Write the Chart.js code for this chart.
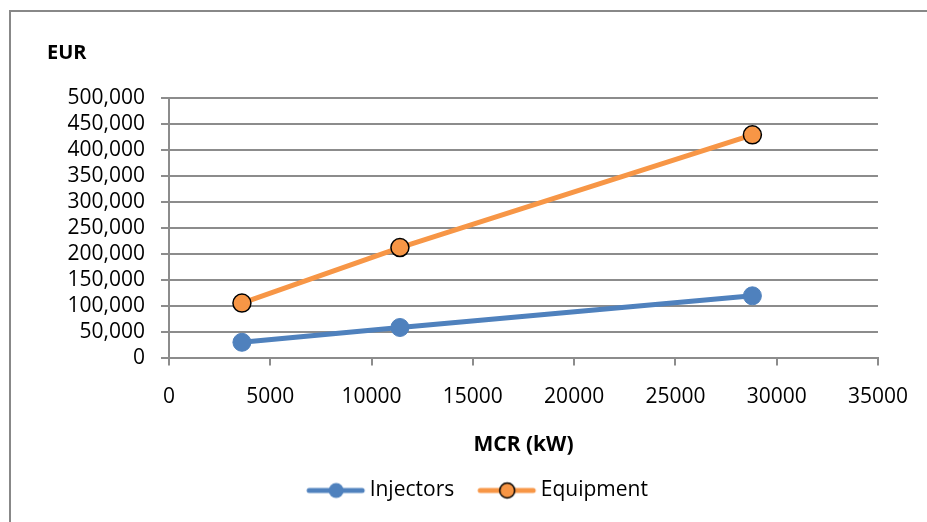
<!DOCTYPE html>
<html>
<head>
<meta charset="utf-8">
<script src="https://cdn.jsdelivr.net/npm/chart.js@4.4.1/dist/chart.umd.min.js"></script>
<style>
  html, body { margin: 0; padding: 0; background: #fff; overflow: hidden; }
  #wrap { width: 927px; height: 522px; position: relative; }
</style>
</head>
<body>
<div id="wrap"><canvas id="c" width="927" height="522"></canvas></div>
<script>
// ---- data ----
const mcrKw = [3600, 11400, 28800];
const injectorsEur = [29500, 58000, 119000];
const equipmentEur = [105000, 212000, 429000];
const seriesNames = ['Injectors', 'Equipment'];
const yTitle = 'EUR';
const xTitle = 'MCR (kW)';

const BLUE = '#4F81BD';
const ORANGE = '#F79646';
const GRID = '#8c8c8c';
const FONT = "'Open Sans', sans-serif";

function legendIcon(color, border) {
  const c = document.createElement('canvas');
  c.width = 70; c.height = 20;
  const g = c.getContext('2d');
  g.strokeStyle = color; g.lineWidth = 5; g.lineCap = 'round';
  g.beginPath(); g.moveTo(13, 10); g.lineTo(66, 10); g.stroke();
  g.beginPath(); g.arc(40, 10, 7.5, 0, Math.PI * 2);
  g.fillStyle = color; g.fill();
  if (border) { g.lineWidth = 1.5; g.strokeStyle = border; g.stroke(); }
  return c;
}

const frame = {
  id: 'frame',
  beforeDraw(chart) {
    const ctx = chart.ctx;
    ctx.save();
    ctx.fillStyle = '#fff';
    ctx.fillRect(0, 0, chart.width, chart.height);
    ctx.strokeStyle = '#888888';
    ctx.lineWidth = 2;
    ctx.strokeRect(10, 11, chart.width + 100, chart.height + 100);
    ctx.restore();
  }
};

const toPts = (ys) => ys.map((y, i) => ({ x: mcrKw[i], y }));

new Chart(document.getElementById('c'), {
  type: 'line',
  data: {
    datasets: [
      {
        label: seriesNames[0],
        data: toPts(injectorsEur),
        borderColor: BLUE, backgroundColor: BLUE,
        borderWidth: 5, pointRadius: 9, pointBorderWidth: 1,
        pointBorderColor: BLUE, pointBackgroundColor: BLUE,
        pointStyle: 'circle', tension: 0,
        legendIcon: legendIcon(BLUE, null)
      },
      {
        label: seriesNames[1],
        data: toPts(equipmentEur),
        borderColor: ORANGE, backgroundColor: ORANGE,
        borderWidth: 5, pointRadius: 9, pointBorderWidth: 1.5,
        pointBorderColor: '#000', pointBackgroundColor: ORANGE,
        pointStyle: 'circle', tension: 0,
        legendIcon: legendIcon(ORANGE, '#000')
      }
    ]
  },
  options: {
    responsive: false,
    animation: false,
    layout: { padding: { left: 47, right: 23, top: 0, bottom: 11 } },
    scales: {
      x: {
        type: 'linear', min: 0, max: 35000,
        border: { display: true, color: GRID, width: 2 },
        grid: { drawOnChartArea: false, drawTicks: true, tickLength: 8, color: GRID, lineWidth: 2 },
        ticks: {
          stepSize: 5000, color: '#000', padding: 19, maxRotation: 0, autoSkip: false,
          font: { family: FONT, size: 21 },
          callback: (v) => String(v)
        },
        title: { display: true, text: xTitle, color: '#000', font: { family: FONT, size: 21, weight: 'bold' }, padding: { top: 4, bottom: 2 } }
      },
      y: {
        min: 0, max: 500000,
        border: { display: true, color: GRID, width: 2 },
        grid: { drawTicks: true, tickLength: 8, color: GRID, lineWidth: 2 },
        ticks: {
          stepSize: 50000, color: '#000', padding: 16, autoSkip: false,
          font: { family: FONT, size: 21 },
          callback: (v) => v.toLocaleString('en-US')
        },
        afterFit: (s) => { s.width = 122; }
      }
    },
    plugins: {
      title: {
        display: true, text: yTitle, align: 'start', color: '#000',
        font: { family: FONT, size: 20, weight: 'bold' },
        padding: { top: 41, bottom: 33 }
      },
      legend: {
        position: 'bottom',
        labels: {
          color: '#000', font: { family: FONT, size: 21 },
          usePointStyle: true, pointStyleWidth: 56, padding: 20,
          generateLabels: (chart) => chart.data.datasets.map((d, i) => ({
            text: d.label, pointStyle: d.legendIcon, datasetIndex: i,
            fontColor: '#000', hidden: false, lineWidth: 0, strokeStyle: d.borderColor, fillStyle: d.backgroundColor
          }))
        }
      },
      tooltip: { enabled: false }
    }
  },
  plugins: [frame]
});
</script>
</body>
</html>
